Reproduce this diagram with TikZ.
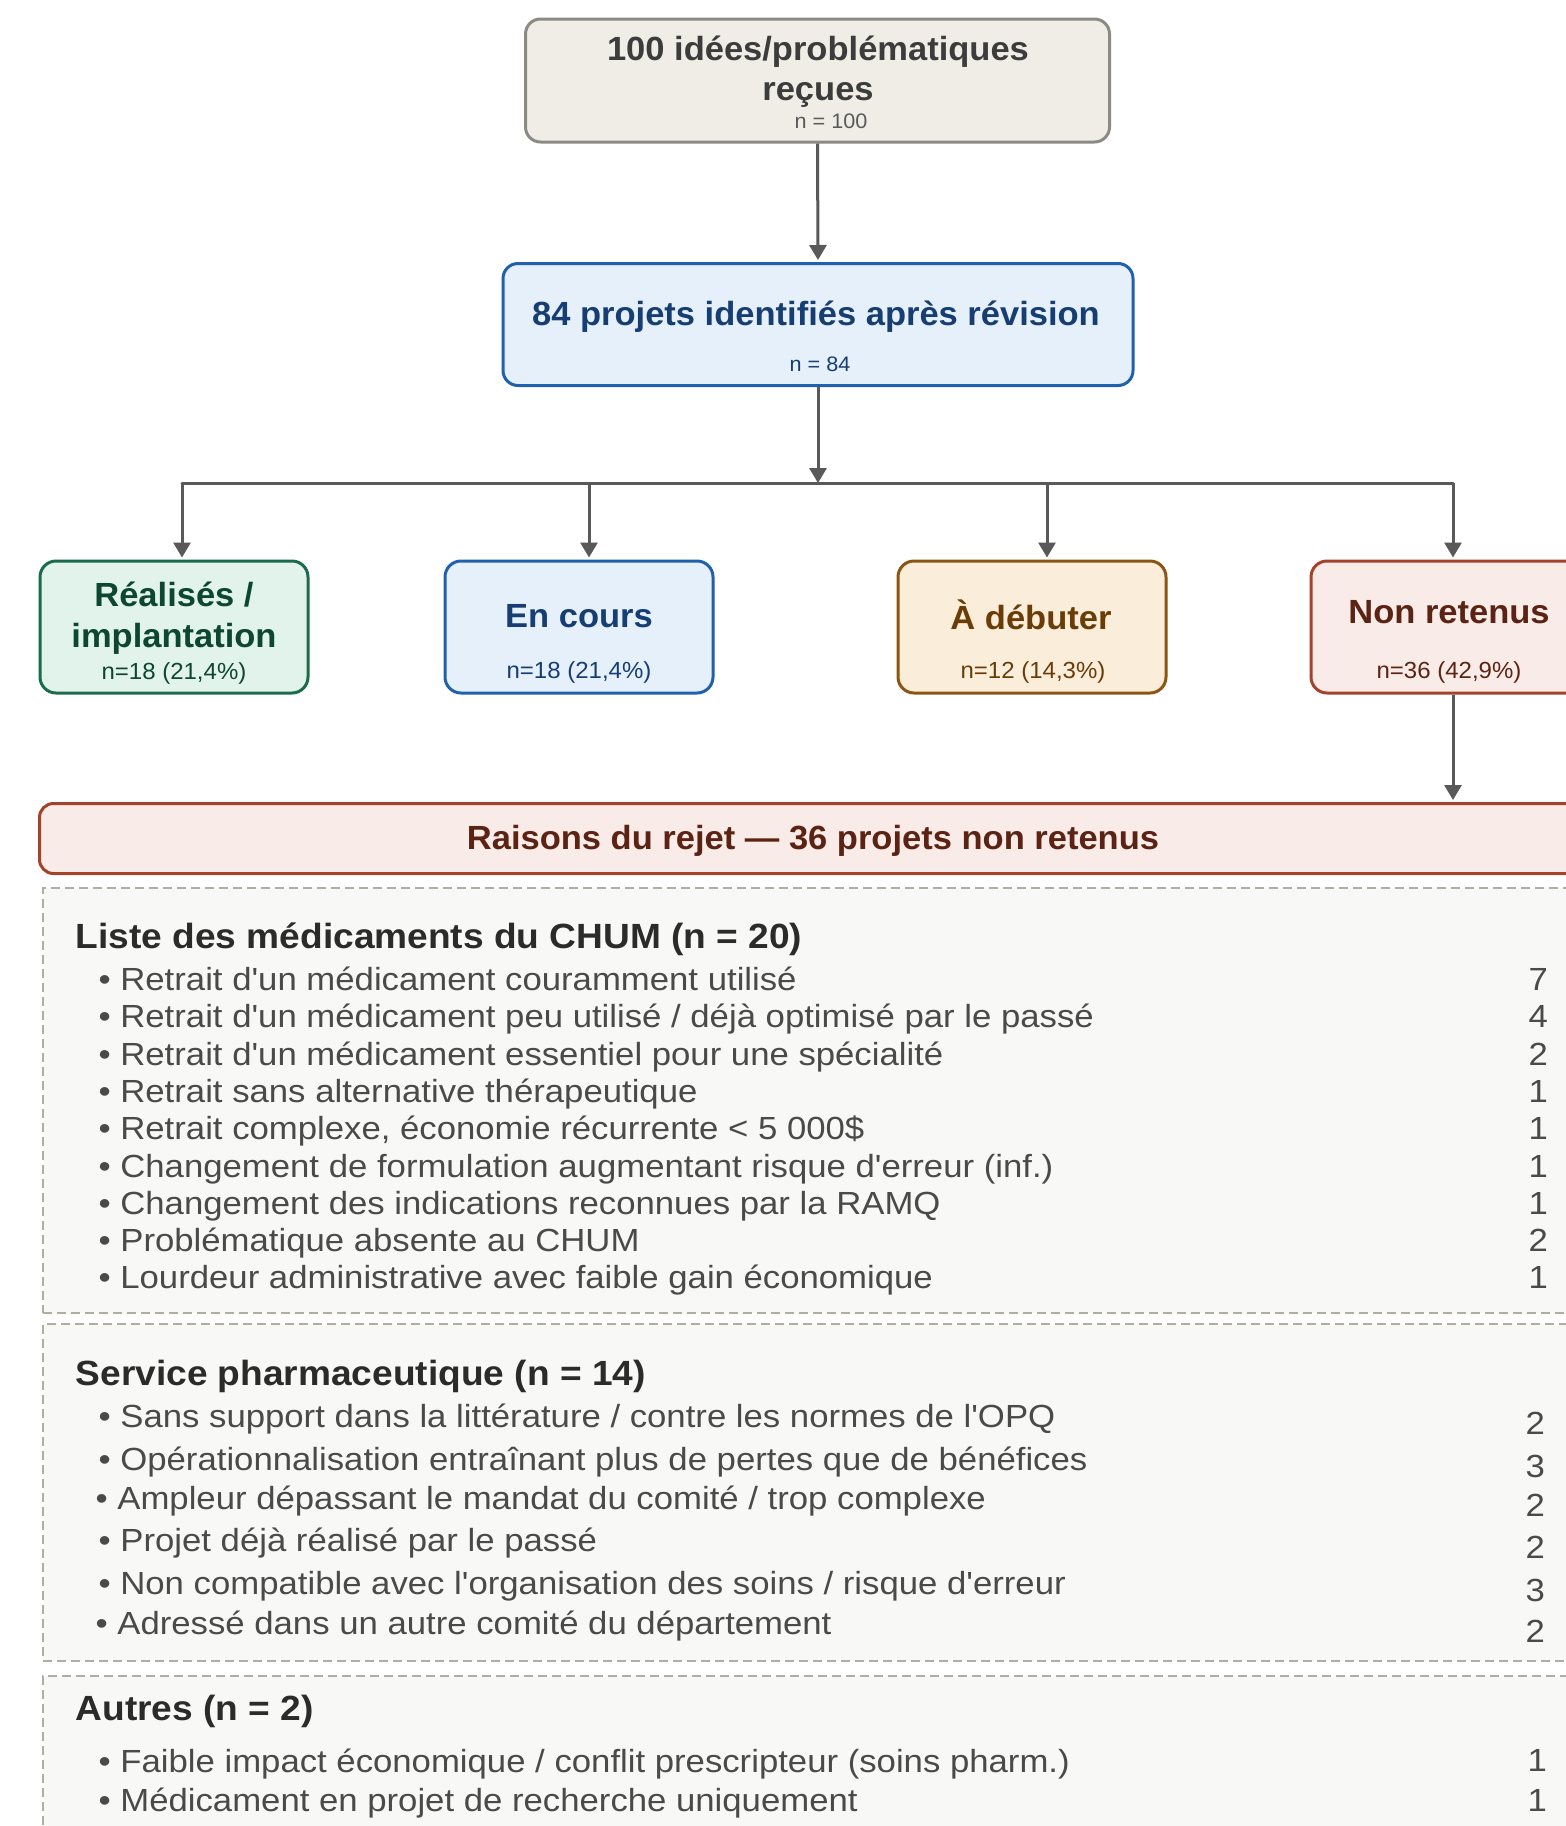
\documentclass[tikz,border=0pt]{standalone}
\usepackage{fontspec}
\setmainfont{Liberation Sans}
\newfontfamily\fB{Liberation Sans}[FakeStretch=1.03,Ligatures=TeXOff]
\newfontfamily\fH{Liberation Sans}[FakeStretch=1.06,Ligatures=TeXOff]
\newfontfamily\fR{Liberation Sans}[FakeStretch=1.085,Ligatures=TeXOff]
\usetikzlibrary{arrows.meta}
\definecolor{arrowc}{HTML}{595959}
\definecolor{topfill}{HTML}{F0EDE6}\definecolor{topdraw}{HTML}{8C8A84}\definecolor{toptext}{HTML}{3C3C3C}\definecolor{topsmall}{HTML}{5A5A5A}
\definecolor{bluefill}{HTML}{E6F0FA}\definecolor{bluedraw}{HTML}{2160AC}\definecolor{bluetext}{HTML}{173E72}
\definecolor{greenfill}{HTML}{E2F3EC}\definecolor{greendraw}{HTML}{1B6B4D}\definecolor{greentext}{HTML}{0D4631}
\definecolor{orfill}{HTML}{FAEDDA}\definecolor{ordraw}{HTML}{8B5512}\definecolor{ortext}{HTML}{6A3C07}
\definecolor{redfill}{HTML}{F9EBE7}\definecolor{reddraw}{HTML}{A3432B}\definecolor{redtext}{HTML}{5A2313}
\definecolor{secfill}{HTML}{F8F8F6}\definecolor{secdraw}{HTML}{B0ADA4}
\definecolor{headc}{HTML}{2B2B2B}\definecolor{itemc}{HTML}{4A4A4A}
\begin{document}
\begin{tikzpicture}[x=1pt,y=-1pt,
  box/.style={draw, line width=3pt, rounded corners=16pt, inner sep=0pt},
  secbox/.style={draw=secdraw, fill=secfill, line width=2.2pt, dash pattern=on 9pt off 5pt, inner sep=0pt, anchor=north west},
  ttl/.style={font=\fB\bfseries\fontsize{33.5}{40}\selectfont, inner sep=0pt, anchor=base},
  sml/.style={font=\fB\fontsize{23.3}{28}\selectfont, inner sep=0pt, anchor=base},
  tiny/.style={font=\fB\fontsize{21}{25}\selectfont, inner sep=0pt, anchor=base},
  head/.style={font=\fH\bfseries\fontsize{35}{42}\selectfont, text=headc, inner sep=0pt, anchor=base west},
  item/.style={font=\fR\fontsize{32}{38}\selectfont, text=itemc, inner sep=0pt, anchor=base west},
  num/.style={font=\fR\fontsize{32}{38}\selectfont, text=itemc, inner sep=0pt, anchor=base east},
  line/.style={draw=arrowc, line width=3pt, line cap=round},
  arr/.style={draw=arrowc, line width=3pt, -{Triangle[width=17pt,length=15pt]}, shorten >=2pt}
]
\useasboundingbox (0,0) rectangle (1566,1826);
\clip (0,0) rectangle (1566,1826);
\fill[white] (0,0) rectangle (1566,1826);

% top boxes
\node[box, draw=topdraw, fill=topfill, minimum width=584pt, minimum height=123pt, rounded corners=15pt] (top) at (817.5,80.5) {};
\node[ttl, text=toptext] (topA) at (818,60) {100 idées/problématiques};
\node[ttl, text=toptext] (topB) at (818,100) {reçues};
\node[tiny, text=topsmall] (topC) at (831,128) {n = 100};

\node[box, draw=bluedraw, fill=bluefill, minimum width=630pt, minimum height=122pt, rounded corners=15pt] (b84) at (818,324.5) {};
\node[ttl, text=bluetext] (b84A) at (816,325) {84 projets identifiés après révision};
\node[tiny, text=bluetext] (b84B) at (820,371) {n = 84};

% row of status boxes
\node[box, draw=greendraw, fill=greenfill, minimum width=268pt, minimum height=132pt] (r1) at (174,627) {};
\node[ttl, text=greentext] (r1A) at (174,606) {Réalisés /};
\node[ttl, text=greentext] (r1B) at (174,647) {implantation};
\node[sml, text=greentext] (r1C) at (174,679) {n=18 (21,4\%)};

\node[box, draw=bluedraw, fill=bluefill, minimum width=268pt, minimum height=132pt] (r2) at (579,627) {};
\node[ttl, text=bluetext] (r2A) at (579,627) {En cours};
\node[sml, text=bluetext] (r2B) at (579,678) {n=18 (21,4\%)};

\node[box, draw=ordraw, fill=orfill, minimum width=268pt, minimum height=132pt] (r3) at (1032,627) {};
\node[ttl, text=ortext] (r3A) at (1031,629) {À débuter};
\node[sml, text=ortext] (r3B) at (1033,678) {n=12 (14,3\%)};

\node[box, draw=reddraw, fill=redfill, minimum width=272pt, minimum height=132pt] (r4) at (1447,627) {};
\node[ttl, text=redtext] (r4A) at (1449,623) {Non retenus};
\node[sml, text=redtext] (r4B) at (1449,678) {n=36 (42,9\%)};

% reasons header
\node[box, draw=reddraw, fill=redfill, minimum width=1560pt, minimum height=70pt, rounded corners=14pt, anchor=north west] (rais) at (38,802) {};
\node[ttl, text=redtext] (raisA) at (813,849) {Raisons du rejet — 36 projets non retenus};

% connectors
\coordinate (bus1) at (182,483);
\coordinate (bus2) at (589,483);
\coordinate (bus3) at (1047,483);
\coordinate (bus4) at (1453,483);
\draw[arr] (top.south) -- (b84.north);
\draw[line] (bus1) -- (bus4);
\draw[arr, shorten >=0pt] (b84.south) -- (b84.south |- bus1);
\draw[arr] (bus1) -- (bus1 |- r1.north);
\draw[arr] (bus2) -- (bus2 |- r2.north);
\draw[arr] (bus3) -- (bus3 |- r3.north);
\draw[arr] (bus4) -- (bus4 |- r4.north);
\draw[arr] (bus4 |- r4.south) -- (bus4 |- rais.north);

% section 1
\node[secbox, minimum width=1560pt, minimum height=425pt] (sec1) at (42,887) {};
\node[head] (h1) at (75.5,948) {Liste des médicaments du CHUM (n = 20)};
\node[item] (a1) at (98.4,990.5) {• Retrait d'un médicament couramment utilisé};
\node[item] (a2) at (98.4,1027.8) {• Retrait d'un médicament peu utilisé / déjà optimisé par le passé};
\node[item] (a3) at (98.4,1065.1) {• Retrait d'un médicament essentiel pour une spécialité};
\node[item] (a4) at (98.4,1102.4) {• Retrait sans alternative thérapeutique};
\node[item] (a5) at (98.4,1139.7) {• Retrait complexe, économie récurrente < 5 000\$};
\node[item] (a6) at (98.4,1177) {• Changement de formulation augmentant risque d'erreur (inf.)};
\node[item] (a7) at (98.4,1214.3) {• Changement des indications reconnues par la RAMQ};
\node[item] (a8) at (98.4,1251.6) {• Problématique absente au CHUM};
\node[item] (a9) at (98.4,1288.9) {• Lourdeur administrative avec faible gain économique};
\node[num] (n1) at (1548,990.5) {7};
\node[num] (n2) at (1548,1027.8) {4};
\node[num] (n3) at (1548,1065.1) {2};
\node[num] (n4) at (1548,1102.4) {1};
\node[num] (n5) at (1548,1139.7) {1};
\node[num] (n6) at (1548,1177) {1};
\node[num] (n7) at (1548,1214.3) {1};
\node[num] (n8) at (1548,1251.6) {2};
\node[num] (n9) at (1548,1288.9) {1};

% section 2
\node[secbox, minimum width=1560pt, minimum height=337pt] (sec2) at (42,1323) {};
\node[head] (h2) at (75.5,1385) {Service pharmaceutique (n = 14)};
\node[item] (b1) at (98.4,1427) {• Sans support dans la littérature / contre les normes de l'OPQ};
\node[item] (b2) at (98.4,1470) {• Opérationnalisation entraînant plus de pertes que de bénéfices};
\node[item] (b3) at (95.4,1509) {• Ampleur dépassant le mandat du comité / trop complexe};
\node[item] (b4) at (98.4,1551) {• Projet déjà réalisé par le passé};
\node[item] (b5) at (98.4,1594) {• Non compatible avec l'organisation des soins / risque d'erreur};
\node[item] (b6) at (95.4,1634) {• Adressé dans un autre comité du département};
\node[num] (m1) at (1545,1434) {2};
\node[num] (m2) at (1545,1477) {3};
\node[num] (m3) at (1545,1516) {2};
\node[num] (m4) at (1545,1558) {2};
\node[num] (m5) at (1545,1601) {3};
\node[num] (m6) at (1545,1642) {2};

% section 3
\node[secbox, minimum width=1560pt, minimum height=170pt] (sec3) at (42,1675) {};
\node[head] (h3) at (75.5,1720) {Autres (n = 2)};
\node[item] (c1) at (98.4,1772) {• Faible impact économique / conflit prescripteur (soins pharm.)};
\node[item] (c2) at (98.4,1811) {• Médicament en projet de recherche uniquement};
\node[num] (k1) at (1547,1771) {1};
\node[num] (k2) at (1547,1811) {1};
\end{tikzpicture}
\end{document}
